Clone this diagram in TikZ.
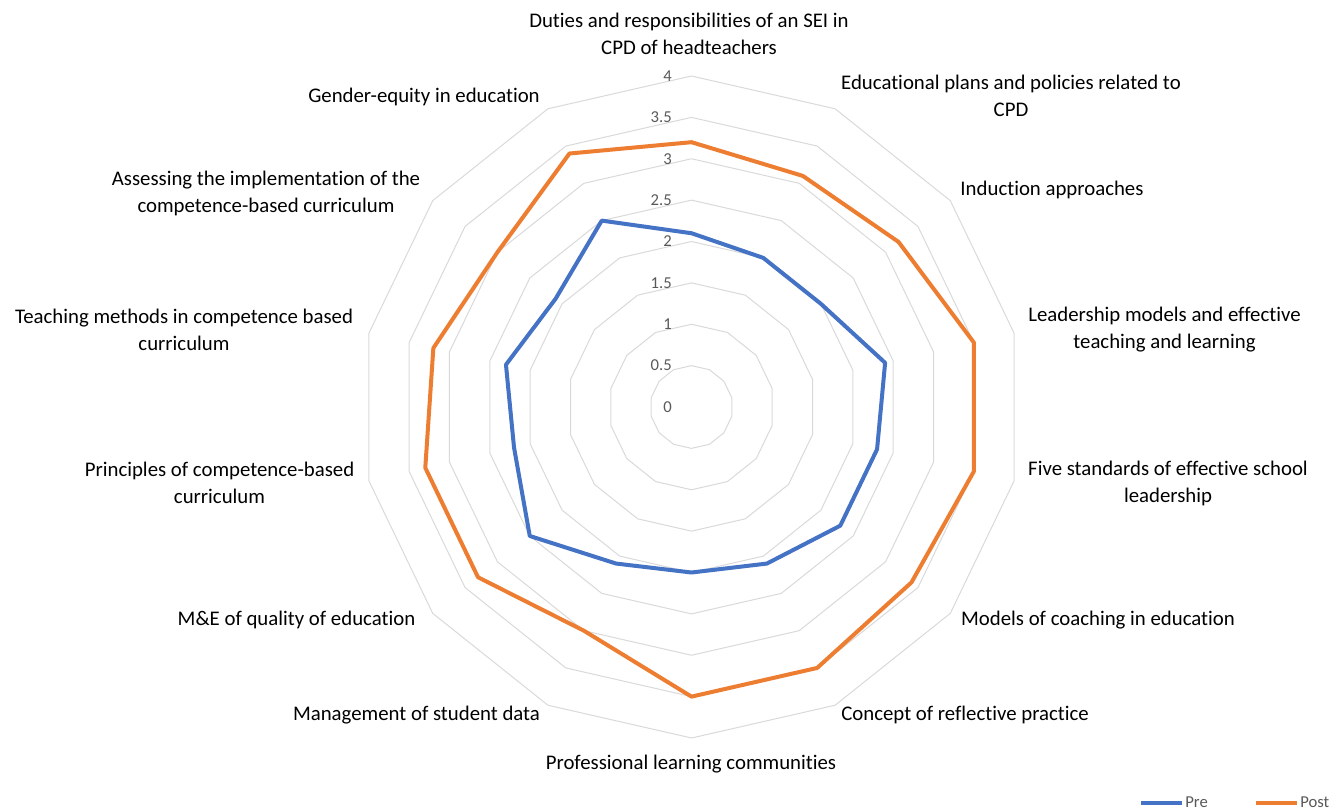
\documentclass[tikz,border=0pt]{standalone}
\usepackage{fontspec}
\setmainfont{Carlito}[Ligatures={NoCommon}]
\definecolor{prec}{HTML}{4472C4}
\definecolor{postc}{HTML}{ED7D31}
\definecolor{gridc}{HTML}{D9D9D9}
\definecolor{tickc}{HTML}{595959}
\begin{document}
\begin{tikzpicture}[x=0.75pt,y=-0.75pt,
  gridline/.style={draw=gridc, line width=0.75pt, line join=round},
  preline/.style={draw=prec, line width=3pt, line join=round},
  postline/.style={draw=postc, line width=3pt, line join=round},
  lbl/.style={font=\fontsize{15.6}{20.2}\selectfont, align=center, inner sep=0pt, text=black},
  tick/.style={font=\fontsize{12.5}{14}\selectfont, inner sep=0pt, text=tickc, anchor=east},
  legtxt/.style={font=\fontsize{12.5}{14}\selectfont, inner sep=0pt, text=tickc, anchor=west}]
\useasboundingbox (0,0) rectangle (1333,809);
\def\cx{691.5}
\def\cy{407}
\def\u{82.75}
% grid rings
\foreach \v in {0.5,1.0,...,4.0} {
  \foreach \k in {0,...,13} {
    \coordinate (g\k) at ({\cx+\u*\v*sin(\k*360/14)},{\cy-\u*\v*cos(\k*360/14)});
  }
  \draw[gridline] (g0) \foreach \k in {1,...,13} {-- (g\k)} -- cycle;
}
% tick labels
\foreach \t [count=\i from 0] in {0,0.5,1,1.5,2,2.5,3,3.5,4} {
  \node[tick] (tk\i) at (672,{\cy-\u*\i*0.5}) {\t};
}
% series
\foreach \val [count=\k from 0] in {2.1,2.0,2.0,2.4,2.3,2.3,2.1,2.0,2.1,2.5,2.2,2.3,2.1,2.5} {
  \coordinate (pre\k) at ({\cx+\u*\val*sin(\k*360/14)},{\cy-\u*\val*cos(\k*360/14)});
}
\foreach \val [count=\k from 0] in {3.2,3.1,3.2,3.5,3.5,3.4,3.5,3.5,3.0,3.3,3.3,3.2,3.0,3.4} {
  \coordinate (post\k) at ({\cx+\u*\val*sin(\k*360/14)},{\cy-\u*\val*cos(\k*360/14)});
}
\draw[preline] (pre0) \foreach \k in {1,...,13} {-- (pre\k)} -- cycle;
\draw[postline] (post0) \foreach \k in {1,...,13} {-- (post\k)} -- cycle;
% category labels
\node[lbl] (c0) at (689,33.5) {Duties and responsibilities of an SEI in\\CPD of headteachers};
\node[lbl] (c1) at (1011,96) {Educational plans and policies related to\\CPD};
\node[lbl] (c2) at (1052,190) {Induction approaches};
\node[lbl] (c3) at (1164.5,330) {Leadership models and effective\\teaching and learning};
\node[lbl] (c4) at (1168,483) {Five standards of effective school\\leadership};
\node[lbl] (c5) at (1098,620) {Models of coaching in education};
\node[lbl] (c6) at (965,715) {Concept of reflective practice};
\node[lbl] (c7) at (691,764) {Professional learning communities};
\node[lbl] (c8) at (416.5,715) {Management of student data};
\node[lbl] (c9) at (296.5,620) {M\&E of quality of education};
\node[lbl] (c10) at (219.5,483) {Principles of competence-based\\curriculum};
\node[lbl] (c11) at (184,330) {Teaching methods in competence based\\curriculum};
\node[lbl] (c12) at (266,193) {Assessing the implementation of the\\competence-based curriculum};
\node[lbl] (c13) at (424,97) {Gender-equity in education};
% legend
\coordinate (lpa) at (1141,803);
\coordinate (lpb) at (1182,803);
\coordinate (loa) at (1256,803);
\coordinate (lob) at (1297,803);
\draw[preline] (lpa) -- (lpb);
\draw[postline] (loa) -- (lob);
\node[legtxt] (lpre) at (1185,802) {Pre};
\node[legtxt] (lpost) at (1300,802) {Post};
\end{tikzpicture}
\end{document}
